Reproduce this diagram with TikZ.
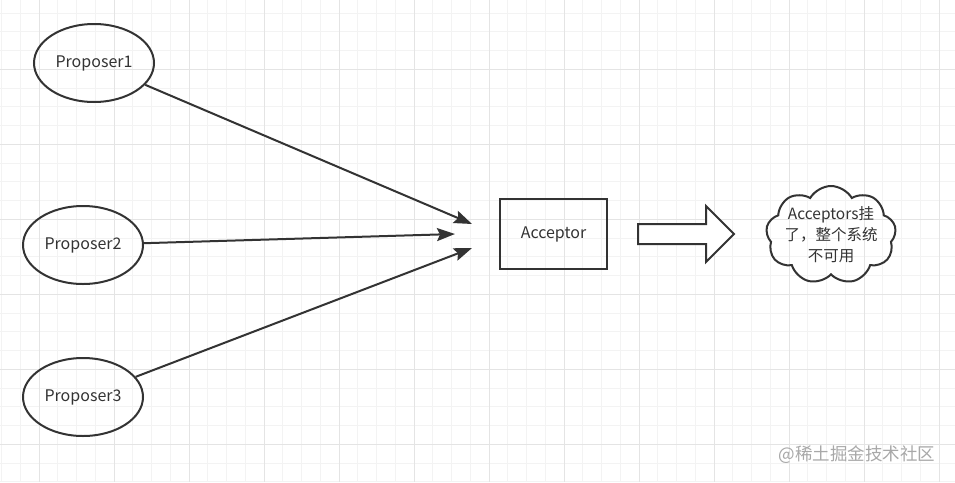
\documentclass[tikz,border=0pt]{standalone}
\usepackage{fontspec}
\setmainfont{Noto Sans CJK SC}
\usetikzlibrary{shapes.geometric,shapes.symbols,shapes.arrows,arrows.meta}
\definecolor{ink}{HTML}{333333}
\definecolor{gridminor}{HTML}{F3F3F3}
\definecolor{gridmajor}{HTML}{E4E4E4}
\definecolor{mark}{HTML}{A8A8A8}
\tikzset{
  proposer/.style={ellipse,draw=ink,line width=2pt,minimum width=120pt,minimum height=78pt,inner sep=0pt,text=ink,font=\fontsize{16}{19}\selectfont},
  acceptor/.style={rectangle,draw=ink,line width=2pt,minimum width=107pt,minimum height=70pt,text=ink,font=\fontsize{16}{19}\selectfont},
  msg/.style={draw=ink,line width=2pt,-{Stealth[length=18pt,width=13pt,inset=3pt]}},
  fail/.style={cloud,cloud puffs=9,cloud puff arc=120,draw=ink,line width=2pt,minimum width=130pt,minimum height=98pt,inner sep=0pt},
  failtext/.style={align=center,text=ink,font=\fontsize{15.5}{21}\selectfont},
  fat/.style={single arrow,draw=ink,line width=2pt,fill=white,minimum height=96pt,inner sep=9pt,single arrow head extend=18pt,single arrow tip angle=90}
}
\begin{document}
\begin{tikzpicture}[x=1pt,y=-1pt]
\useasboundingbox (0,0) rectangle (955,482);
\fill[white] (0,0) rectangle (955,482);
% grid
\foreach \i in {0,...,51}
  \draw[gridminor,line width=1pt] ({1.5+18.75*\i},0) -- ++(0,482);
\foreach \j in {0,...,25}
  \draw[gridminor,line width=1pt] (0,{13+18.75*\j}) -- ++(955,0);
\foreach \i in {0,...,12}
  \draw[gridmajor,line width=1pt] ({39+75*\i},0) -- ++(0,482);
\foreach \j in {0,...,6}
  \draw[gridmajor,line width=1pt] (0,{-5.75+75*\j}) -- ++(955,0);

\node[proposer] (p1) at (94,63) {Proposer1};
\node[proposer] (p2) at (83,245) {Proposer2};
\node[proposer] (p3) at (83,397) {Proposer3};
\node[acceptor] (acc) at (553.5,234) {Acceptor};
\node[fail,label={[failtext]center:Acceptors挂\\了，整个系统\\不可用}] (down) at (831,235) {};
\node[fat] (goes) at (681,234) {};

\coordinate (in1) at (472,224);
\coordinate (in2) at (455,234);
\coordinate (in3) at (472,248);
\draw[msg] (p1) -- (in1);
\draw[msg] (p2) -- (in2);
\draw[msg] (p3) -- (in3);

\node[text=mark,font=\fontsize{17.5}{20}\selectfont] (wm) at (857,455) {@稀土掘金技术社区};
\end{tikzpicture}
\end{document}
